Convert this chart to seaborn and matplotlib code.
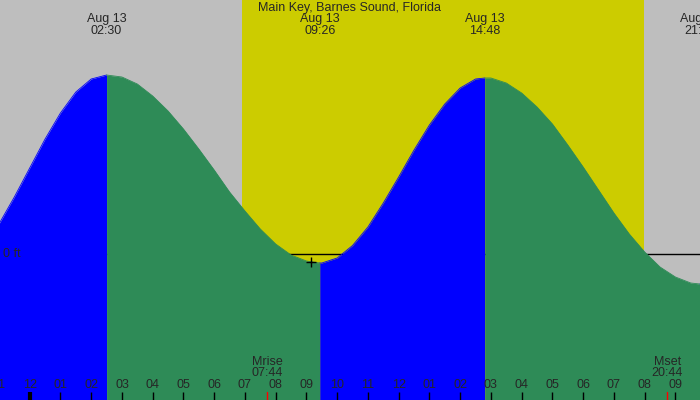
import numpy as np
import pandas as pd
import matplotlib
matplotlib.use("Agg")
import matplotlib.pyplot as plt
import seaborn as sns

# --- data (hours after midnight, Aug 13; heights in ft) ---
station = "Main Key, Barnes Sound, Florida"

sample_hours = [-1.0, -0.5, 0.0, 0.5, 1.0, 1.5, 2.0, 2.5,
                3.0, 3.5, 4.0, 4.5, 5.0, 5.5, 6.0, 6.5, 7.0, 7.5, 8.0, 8.5, 9.0, 9.433,
                9.5, 10.0, 10.5, 11.0, 11.5, 12.0, 12.5, 13.0, 13.5, 14.0, 14.5, 14.8,
                15.0, 15.5, 16.0, 16.5, 17.0, 17.5, 18.0, 18.5, 19.0, 19.5, 20.0, 20.5,
                21.0, 21.5, 21.8, 22.0]
sample_ft = [0.30, 0.57, 0.86, 1.15, 1.41, 1.62, 1.75, 1.79,
             1.77, 1.70, 1.58, 1.43, 1.25, 1.05, 0.84, 0.62, 0.43, 0.25, 0.10, -0.01, -0.07, -0.09,
             -0.09, -0.04, 0.085, 0.27, 0.51, 0.77, 1.04, 1.29, 1.50, 1.66, 1.75, 1.76,
             1.76, 1.71, 1.61, 1.47, 1.30, 1.09, 0.87, 0.64, 0.41, 0.20, 0.02, -0.13,
             -0.23, -0.29, -0.30, -0.29]

extreme_hours = [2.5, 9.433, 14.8, 21.8]
extreme_times = ["02:30", "09:26", "14:48", "21:48"]
extreme_day = "Aug 13"

sunrise_h = 6.90
sunset_h = 19.98

moon_names = ["Mrise", "Mset"]
moon_hours = [7.733, 20.733]
moon_times = ["07:44", "20:44"]

now_h, now_ft = 9.15, -0.08

hour_ticks = list(range(-1, 22))
hour_labels = ["11", "12", "01", "02", "03", "04", "05", "06", "07", "08", "09", "10",
               "11", "12", "01", "02", "03", "04", "05", "06", "07", "08", "09"]

sns.set_style("white")
plt.rcParams['font.family'] = ['Liberation Sans', 'DejaVu Sans']

df = pd.DataFrame({"hour": sample_hours, "ft": sample_ft})

fig = plt.figure(figsize=(7, 4), dpi=100)
ax = fig.add_axes([0, 0, 1, 1])
ax.set_xlim(-0.966, 21.8)
ax.set_ylim(-1.46, 2.54)
ax.set_facecolor("#BEBEBE")
for s in ax.spines.values():
    s.set_visible(False)
ax.set_xticks([])
ax.set_yticks([])

# daylight band and zero line (behind the water)
ax.axvspan(sunrise_h, sunset_h, color="#CCCC00", lw=0, zorder=0)
ax.axhline(0, color="black", lw=1, zorder=1)

# rising (blue) / falling (green) pieces between extremes
bounds = [-2.0] + extreme_hours + [23.0]
for i in range(len(bounds) - 1):
    seg = df[(df.hour >= bounds[i]) & (df.hour <= bounds[i + 1])]
    col = "#0000FF" if i % 2 == 0 else "#2E8B57"
    ax.fill_between(seg.hour, seg.ft, -2, color=col, lw=0, zorder=2)
    sns.lineplot(data=seg, x="hour", y="ft", color=col, lw=0.6, ax=ax, zorder=3)
ax.set_xlabel("")
ax.set_ylabel("")

ax.plot([now_h], [now_ft], marker="+", color="black", ms=7, mew=1, zorder=4)
ax.text(0.004, 0, "0 ft", ha="left", va="center", fontsize=9, zorder=5,
        transform=ax.get_yaxis_transform())

tr = ax.get_xaxis_transform()
ax.text(0.5, 1 - 8 / 400, station, ha="center", va="center", fontsize=9,
        transform=ax.transAxes)
for h, t in zip(extreme_hours, extreme_times):
    ax.text(h, 1 - 19 / 400, extreme_day, ha="center", va="center", fontsize=9, transform=tr)
    ax.text(h, 1 - 31 / 400, t, ha="center", va="center", fontsize=9, transform=tr)

# hour ticks along the bottom
for h, lab in zip(hour_ticks, hour_labels):
    lw = 3 if h == 0 else 1
    ax.plot([h, h], [0, 8 / 400], color="black", lw=lw, transform=tr, zorder=5,
            solid_capstyle="butt")
    ax.text(h, 15 / 400, lab, ha="center", va="center", fontsize=9, transform=tr, zorder=5)

for name, h, t in zip(moon_names, moon_hours, moon_times):
    ax.plot([h, h], [0, 8 / 400], color="red", lw=1, transform=tr, zorder=5)
    ax.text(h, 38 / 400, name, ha="center", va="center", fontsize=9, transform=tr, zorder=5)
    ax.text(h, 27 / 400, t, ha="center", va="center", fontsize=9, transform=tr, zorder=5)

fig.savefig("out.png", dpi=100)
